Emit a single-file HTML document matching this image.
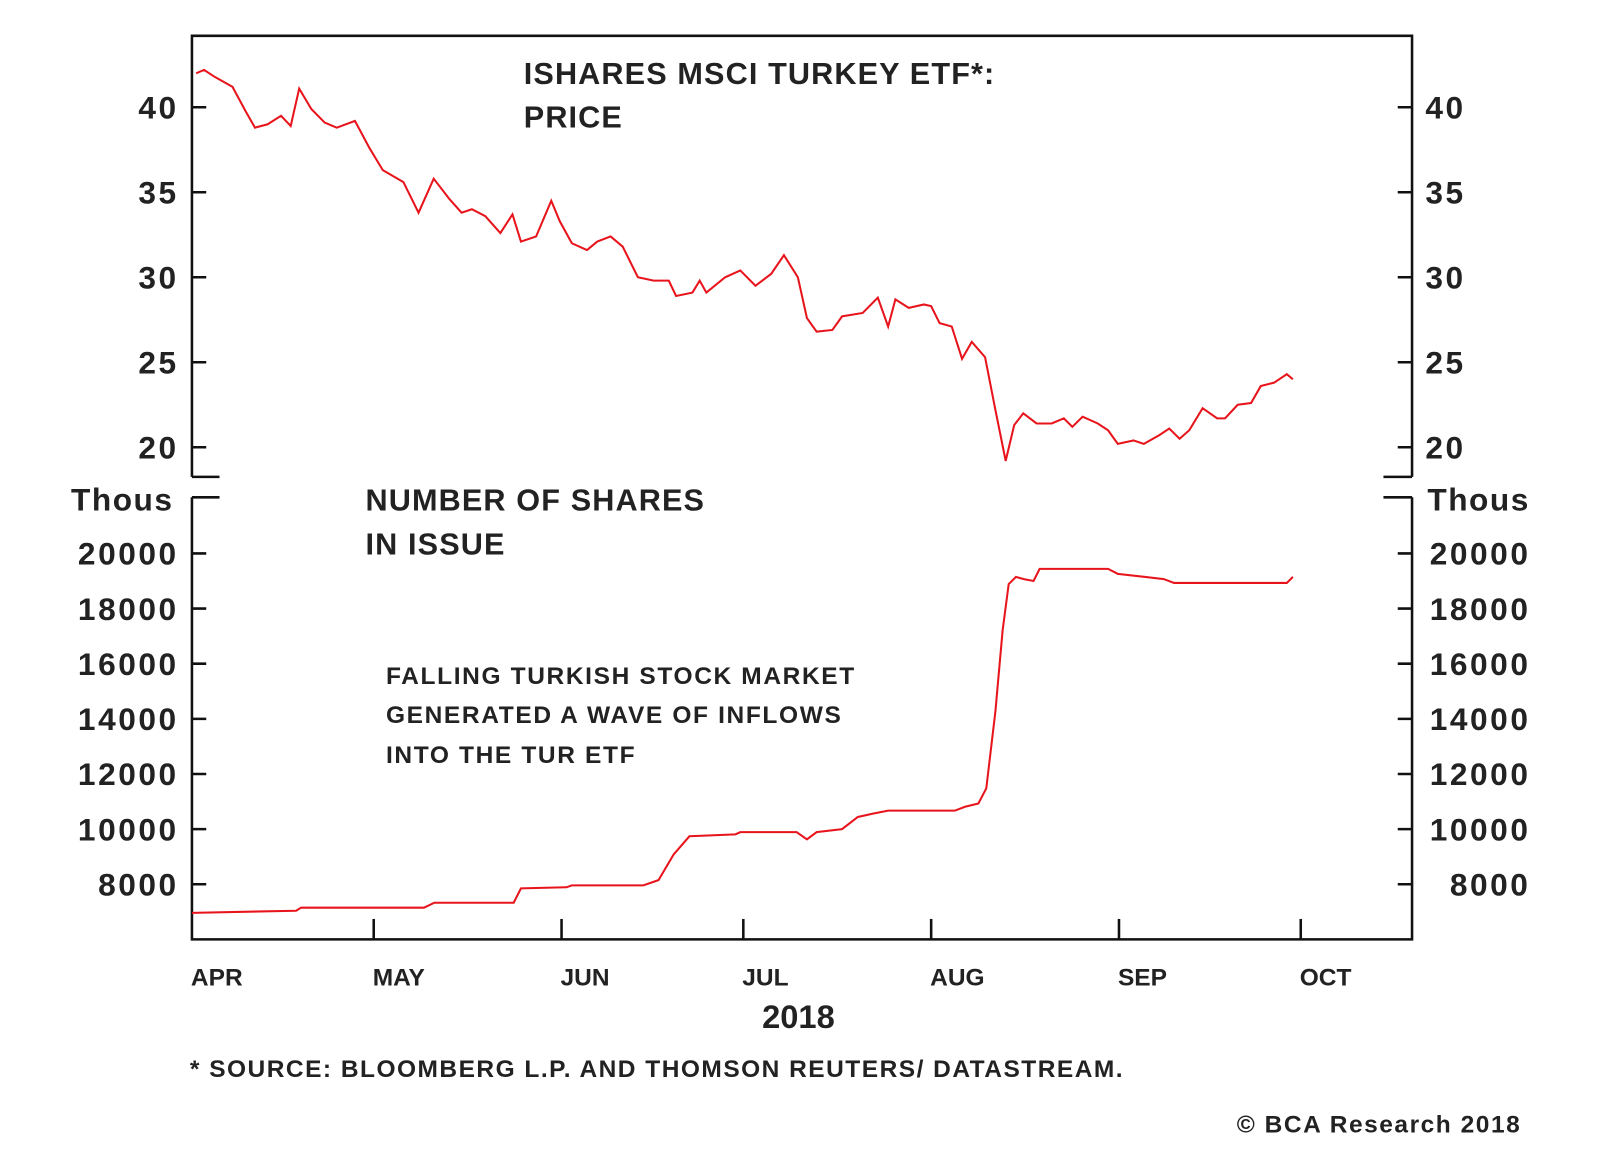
<!DOCTYPE html>
<html><head><meta charset="utf-8"><style>
body{margin:0;background:#fff}
svg text{font-family:"Liberation Sans",Arial,sans-serif;font-weight:bold;fill:#222}
</style></head><body>
<svg id="chart" width="1600" height="1152" viewBox="0 0 1600 1152" xmlns="http://www.w3.org/2000/svg">
<g id="root" transform="translate(0,-3) scale(1.021)">
<g id="frame" stroke="#111" stroke-width="2.5" fill="none"></g>
<g id="axes"></g>
<g id="series"></g>
<text x="513" y="85" font-size="30" letter-spacing="1.1">ISHARES MSCI TURKEY ETF*:</text>
<text x="513" y="128" font-size="30" letter-spacing="1.1">PRICE</text>
<text x="358" y="503" font-size="30" letter-spacing="1.1">NUMBER OF SHARES</text>
<text x="358" y="546" font-size="30" letter-spacing="1.1">IN ISSUE</text>
<text x="378" y="673" font-size="24" letter-spacing="1.6">FALLING TURKISH STOCK MARKET</text>
<text x="378" y="711" font-size="24" letter-spacing="1.6">GENERATED A WAVE OF INFLOWS</text>
<text x="378" y="750" font-size="24" letter-spacing="1.6">INTO THE TUR ETF</text>
<text x="782" y="1010" font-size="32" text-anchor="middle">2018</text>
<text x="186" y="1058" font-size="24" letter-spacing="1.45">* SOURCE: BLOOMBERG L.P. AND THOMSON REUTERS/ DATASTREAM.</text>
<text x="1490" y="1112" font-size="24" letter-spacing="1.5" text-anchor="end">© BCA Research 2018</text>
</g>
</svg>
<script>
const monthLabels=["APR","MAY","JUN","JUL","AUG","SEP","OCT"];
const monthDays=[0,30,61,91,122,153,183];
const priceTicks=[40,35,30,25,20];
const shareTicks=[20000,18000,16000,14000,12000,10000,8000];
const priceDays=[0.7,2,3.7,6.7,8.8,10.4,12.5,14.7,16.3,17.7,19.7,21.9,23.9,26.9,29.3,31.5,34.9,37.4,39.9,42.5,44.5,46.2,48.4,50.9,52.9,54.3,56.8,59.3,60.7,62.7,65.2,66.9,69.1,71.1,73.6,76.2,78.7,79.9,82.6,83.8,84.9,88,90.5,93,95.6,97.7,100,101.5,103.1,105.7,107.3,110.7,113.2,114.9,116.1,118.3,120.8,122,123.4,125.4,127.1,128.7,130.9,132.6,134.3,135.7,137.2,139.4,141.9,143.9,145.3,147,149.5,151.2,152.8,155.4,157.1,159.6,161.3,163,164.6,166.8,169.2,170.5,172.6,174.8,176.4,178.6,180.7,181.7];
const priceValues=[42.0,42.2,41.8,41.2,39.8,38.8,39.0,39.5,38.9,41.1,39.9,39.1,38.8,39.2,37.6,36.3,35.6,33.8,35.8,34.6,33.8,34.0,33.6,32.6,33.7,32.1,32.4,34.5,33.3,32.0,31.6,32.1,32.4,31.8,30.0,29.8,29.8,28.9,29.1,29.8,29.1,30.0,30.4,29.5,30.2,31.3,30.0,27.6,26.8,26.9,27.7,27.9,28.8,27.1,28.7,28.2,28.4,28.3,27.3,27.1,25.2,26.2,25.3,22.2,19.2,21.3,22.0,21.4,21.4,21.7,21.2,21.8,21.4,21.0,20.2,20.4,20.2,20.7,21.1,20.5,21.0,22.3,21.7,21.7,22.5,22.6,23.6,23.8,24.3,24.0];
const shareDays=[0,17.2,18,38.3,40,53.1,54.3,61.8,62.7,74.5,77,79.5,82.1,89.7,90.5,99.8,101.5,103.1,107.3,109.9,112.4,114.9,125.9,127.6,129.8,131.1,132.6,133.8,134.8,136,137.3,138.9,139.9,151.2,152.8,160.4,162.1,180.7,181.7];
const shareValues=[6963,7040,7150,7150,7330,7330,7850,7890,7960,7960,8150,9080,9740,9810,9890,9890,9630,9890,10000,10440,10560,10670,10670,10810,10930,11480,14260,17220,18890,19150,19070,19000,19440,19440,19260,19070,18930,18930,19150];

const NS="http://www.w3.org/2000/svg";
const L=188,R=1383,T=38,B=923;
const xs=d=>L+d*(1274-L)/183;
const yP=v=>108+(40-v)*(441-108)/20;
const yS=v=>545+(20000-v)*(869-545)/12000;
function mk(tag,attrs,parent,text){const e=document.createElementNS(NS,tag);for(const k in attrs)e.setAttribute(k,attrs[k]);if(text!==undefined)e.textContent=text;parent.appendChild(e);return e;}
const frame=document.getElementById('frame');
const fp=mk('path',{d:`M${L},470 L${L},${T} L${R},${T} L${R},470 M${L},470 L215,470 M${R},470 L1355,470 M${L},490 L215,490 M${R},490 L1355,490 M${L},490 L${L},${B} L${R},${B} L${R},490`},frame);


const axes=document.getElementById('axes');
priceTicks.forEach(v=>{
  const y=yP(v);
  const t=mk('path',{d:`M${L},${y} L${L+14},${y} M${R},${y} L${R-14},${y}`,stroke:'#111','stroke-width':2.5},axes);
  
  
  const a=mk('text',{x:175,y:y+11,'font-size':31,'letter-spacing':2.5,'text-anchor':'end'},axes,String(v));
  
  
  const b=mk('text',{x:1396,y:y+11,'font-size':31,'letter-spacing':2.5},axes,String(v));
  
  
});
shareTicks.forEach(v=>{
  const y=yS(v);
  const t=mk('path',{d:`M${L},${y} L${L+14},${y} M${R},${y} L${R-14},${y}`,stroke:'#111','stroke-width':2.5},axes);
  
  
  const a=mk('text',{x:175,y:y+11,'font-size':31,'letter-spacing':2.5,'text-anchor':'end'},axes,String(v));
  
  
  const b=mk('text',{x:1499,y:y+11,'font-size':31,'letter-spacing':2.5,'text-anchor':'end'},axes,String(v));
  
  
});
const th1=mk('text',{x:170,y:503,'font-size':31,'letter-spacing':1.5,'text-anchor':'end'},axes,'Thous');


const th2=mk('text',{x:1398,y:503,'font-size':31,'letter-spacing':1.5},axes,'Thous');


monthLabels.forEach((m,i)=>{
  const x=xs(monthDays[i]);
  if(i>0){const t=mk('path',{d:`M${x},${B} L${x},${B-20}`,stroke:'#111','stroke-width':2.5},axes);
  
  }
  const l=mk('text',{x:x-1,y:968,'font-size':24},axes,m);
  
  
});
const series=document.getElementById('series');
const p1=mk('polyline',{points:priceDays.map((d,i)=>xs(d)+','+yP(priceValues[i])).join(' '),fill:'none',stroke:'#e8141c','stroke-width':2},series);


const p2=mk('polyline',{points:shareDays.map((d,i)=>xs(d)+','+yS(shareValues[i])).join(' '),fill:'none',stroke:'#e8141c','stroke-width':2},series);


</script>
</body></html>
